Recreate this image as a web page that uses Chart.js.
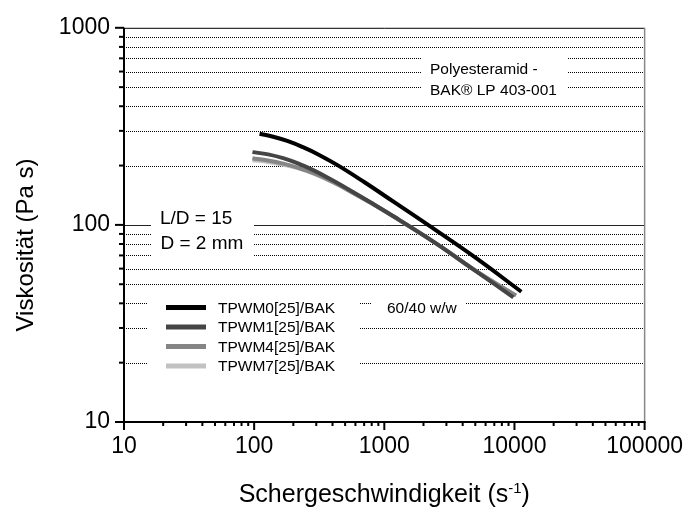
<!DOCTYPE html>
<html>
<head>
<meta charset="utf-8">
<script src="https://cdn.jsdelivr.net/npm/chart.js@4.4.1/dist/chart.umd.min.js"></script>
<style>
  html, body { margin: 0; padding: 0; background: #fff; }
</style>
</head>
<body>
<canvas id="chart" width="694" height="509"></canvas>
<script>
// series names
const seriesNames = ['TPWM0[25]/BAK', 'TPWM1[25]/BAK', 'TPWM4[25]/BAK', 'TPWM7[25]/BAK'];
const seriesColors = ['#000000', '#454545', '#858585', '#c2c2c2'];

// shear rate (1/s) and viscosity (Pa s)
const rate0 = [110, 140, 182, 237, 308, 437, 700, 1200, 2180, 5050, 11300];
const visc0 = [290, 280, 266, 248, 228.5, 201, 165, 130, 99.7, 68, 45.8];
const rate1 = [97, 128, 167, 217, 292, 400, 520, 805, 1204, 2508, 5048, 9807];
const visc1 = [234, 228, 218, 205, 188, 168.5, 152.7, 128.7, 109.6, 80.3, 58.3, 42.9];
const rate4 = [97, 128, 167, 217, 292, 400, 520, 805, 1204, 2508, 5048, 10300];
const visc4 = [218, 212, 204.5, 195, 182, 165.5, 151, 128.3, 109.2, 80.4, 58.4, 43.8];
const rate7 = [97, 128, 167, 217, 292, 400, 520, 805, 1204, 2508, 5048, 10000];
const visc7 = [213, 208.5, 202, 194, 181, 164.5, 150.5, 128, 109, 80.6, 58.6, 44.3];

const xTicks = [10, 100, 1000, 10000, 100000];
const yTicks = [10, 100, 1000];

const FONT = "'Liberation Sans', Arial, Helvetica, sans-serif";

function minorsOf(majors) {
  const out = [];
  for (let i = 0; i < majors.length - 1; i++) {
    for (let k = 2; k <= 9; k++) out.push(majors[i] * k);
  }
  return out;
}
const xMinor = minorsOf(xTicks);
const yMinor = minorsOf(yTicks);

function pts(xs, ys) {
  return xs.map((v, i) => ({x: v, y: ys[i]}));
}
const allRates = [rate0, rate1, rate4, rate7];
const allVisc = [visc0, visc1, visc4, visc7];

function seg(ctx, x1, y1, x2, y2) {
  ctx.beginPath();
  ctx.moveTo(x1, y1);
  ctx.lineTo(x2, y2);
  ctx.stroke();
}

const decorations = {
  id: 'decorations',
  beforeDatasetsDraw(chart) {
    const {ctx, chartArea: a, scales: {x, y}} = chart;
    ctx.save();

    // dotted minor grid lines
    ctx.lineWidth = 1;
    ctx.strokeStyle = '#000';
    ctx.setLineDash([1, 1]);
    yMinor.forEach(v => {
      const py = Math.round(y.getPixelForValue(v)) + 0.5;
      seg(ctx, a.left, py, a.right, py);
    });
    ctx.setLineDash([]);

    // solid line at 100
    ctx.strokeStyle = '#222';
    const p100 = Math.round(y.getPixelForValue(100)) + 0.5;
    seg(ctx, a.left, p100, a.right, p100);

    // white boxes behind the notes
    ctx.fillStyle = '#fff';
    ctx.fillRect(422, 49, 146, 48);
    ctx.fillRect(151, 201, 103, 58);
    ctx.fillRect(372, 292, 93, 24);
    ctx.fillRect(148, 290, 212, 84);

    // notes
    ctx.fillStyle = '#000';
    ctx.textAlign = 'left';
    ctx.textBaseline = 'alphabetic';
    ctx.font = '15.5px ' + FONT;
    ctx.fillText('Polyesteramid -', 430, 73.5);
    ctx.fillText('BAK\u00AE LP 403-001', 430, 95);
    ctx.fillText('60/40 w/w', 387, 313);
    ctx.font = '19px ' + FONT;
    ctx.fillText('L/D = 15', 160, 223.5);
    ctx.fillText('D = 2 mm', 160.5, 248.5);

    // legend
    ctx.font = '15.5px ' + FONT;
    ctx.textBaseline = 'middle';
    chart.data.datasets.forEach((ds, i) => {
      const cy = 307.5 + i * 19.5;
      ctx.fillStyle = ds.borderColor;
      ctx.fillRect(166, cy - 2.5, 40, 5);
      ctx.fillStyle = '#000';
      ctx.fillText(ds.label, 218, cy + 1);
    });

    ctx.restore();
  },
  afterDatasetsDraw(chart) {
    const {ctx, chartArea: a, scales: {x, y}} = chart;
    ctx.save();

    // frame
    ctx.strokeStyle = '#000';
    ctx.lineWidth = 1;
    seg(ctx, a.left, a.top + 0.5, a.right, a.top + 0.5);
    ctx.strokeStyle = '#888';
    ctx.lineWidth = 1.5;
    seg(ctx, a.right, a.top, a.right, a.bottom);
    ctx.strokeStyle = '#000';
    ctx.lineWidth = 2;
    seg(ctx, a.left, a.top, a.left, a.bottom + 1);
    seg(ctx, a.left - 1, a.bottom, a.right + 1, a.bottom);

    // tick marks
    ctx.lineWidth = 2;
    yTicks.forEach(v => {
      const py = y.getPixelForValue(v);
      seg(ctx, a.left - 9, py, a.left, py);
    });
    yMinor.forEach(v => {
      const py = y.getPixelForValue(v);
      seg(ctx, a.left - 5, py, a.left, py);
    });
    xTicks.forEach(v => {
      const px = x.getPixelForValue(v);
      seg(ctx, px, a.bottom, px, a.bottom + 8);
    });
    xMinor.forEach(v => {
      const px = x.getPixelForValue(v);
      seg(ctx, px, a.bottom, px, a.bottom + 4);
    });

    // axis titles
    ctx.fillStyle = '#000';
    ctx.textBaseline = 'alphabetic';
    const main = 'Schergeschwindigkeit (s';
    const sup = '-1';
    const tail = ')';
    ctx.font = '25px ' + FONT;
    const wMain = ctx.measureText(main).width;
    const wTail = ctx.measureText(tail).width;
    ctx.font = '15px ' + FONT;
    const wSup = ctx.measureText(sup).width;
    const total = wMain + wSup + wTail;
    let tx = (a.left + a.right) / 2 - total / 2;
    ctx.textAlign = 'left';
    ctx.font = '25px ' + FONT;
    ctx.fillText(main, tx, 502);
    ctx.font = '15px ' + FONT;
    ctx.fillText(sup, tx + wMain, 493);
    ctx.font = '25px ' + FONT;
    ctx.fillText(tail, tx + wMain + wSup, 502);

    ctx.translate(33, 245);
    ctx.rotate(-Math.PI / 2);
    ctx.textAlign = 'center';
    ctx.font = '24px ' + FONT;
    ctx.fillText('Viskosit\u00E4t (Pa s)', 0, 0);

    ctx.restore();
  }
};

new Chart(document.getElementById('chart'), {
  type: 'scatter',
  data: {
    datasets: seriesNames.map((name, i) => ({
      label: name,
      data: pts(allRates[i], allVisc[i]),
      showLine: true,
      borderColor: seriesColors[i],
      backgroundColor: seriesColors[i],
      borderWidth: 4,
      pointRadius: 0,
      pointHoverRadius: 0,
      tension: 0.4,
      borderCapStyle: 'butt',
      borderJoinStyle: 'round'
    }))
  },
  options: {
    responsive: false,
    animation: false,
    events: [],
    layout: {padding: {top: 24, right: 43, left: 0, bottom: 0}},
    plugins: {legend: {display: false}, tooltip: {enabled: false}},
    scales: {
      x: {
        type: 'logarithmic',
        min: 10,
        max: 100000,
        afterFit(scale) { scale.height = 87; },
        afterBuildTicks(scale) { scale.ticks = xTicks.map(v => ({value: v, major: true})); },
        grid: {display: false, drawTicks: false},
        border: {display: false},
        ticks: {
          color: '#000',
          font: {family: FONT, size: 23, lineHeight: 1.2},
          padding: 11,
          autoSkip: false,
          maxRotation: 0,
          callback: v => String(v)
        }
      },
      y: {
        type: 'logarithmic',
        min: 10,
        max: 1000,
        afterFit(scale) { scale.width = 124; },
        afterBuildTicks(scale) { scale.ticks = yTicks.map(v => ({value: v, major: true})); },
        grid: {display: false, drawTicks: false},
        border: {display: false},
        ticks: {
          color: '#000',
          font: {family: FONT, size: 23, lineHeight: 1.2},
          padding: 14,
          callback: v => String(v)
        }
      }
    }
  },
  plugins: [decorations]
});
</script>
</body>
</html>
